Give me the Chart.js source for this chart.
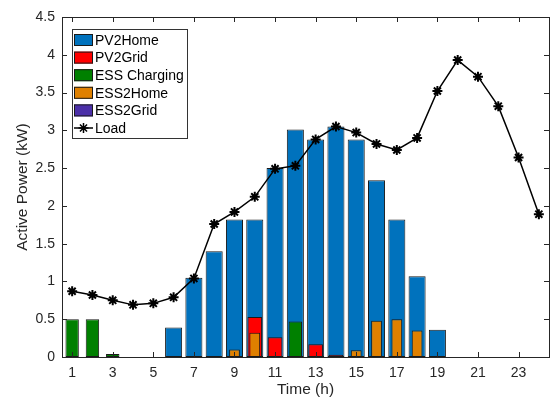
<!DOCTYPE html>
<html>
<head>
<meta charset="utf-8">
<script src="https://cdn.jsdelivr.net/npm/chart.js@4"></script>
<style>
  html, body { margin: 0; padding: 0; background: #fff; }
  #wrap { width: 556px; height: 404px; }
</style>
</head>
<body>
<div id="wrap"><canvas id="chart" width="556" height="404"></canvas></div>
<script>
// ─── Data ─────────────────────────────────────────────────────────────
const HOURS = ['1','2','3','4','5','6','7','8','9','10','11','12',
               '13','14','15','16','17','18','19','20','21','22','23','24'];

const PV2HOME  = [0, 0, 0, 0, 0, 0.39, 1.05, 1.40, 1.82, 1.82, 2.50, 3.01,
                  2.88, 3.05, 2.88, 2.34, 1.82, 1.07, 0.36, 0, 0, 0, 0, 0];
const PV2GRID  = [0, 0, 0, 0, 0, 0, 0, 0, 0, 0.53, 0.26, 0,
                  0.17, 0.03, 0, 0, 0, 0, 0, 0, 0, 0, 0, 0];
const ESS_CHG  = [0.50, 0.50, 0.04, 0, 0, 0, 0, 0, 0, 0, 0, 0.47,
                  0, 0, 0, 0, 0, 0, 0, 0, 0, 0, 0, 0];
const ESS2HOME = [0, 0, 0, 0, 0, 0, 0, 0, 0.10, 0.32, 0, 0,
                  0, 0, 0.09, 0.48, 0.50, 0.35, 0, 0, 0, 0, 0, 0];
const ESS2GRID = [0, 0, 0, 0, 0, 0, 0, 0, 0, 0, 0, 0,
                  0, 0, 0, 0, 0, 0, 0, 0, 0, 0, 0, 0];
const LOAD     = [0.87, 0.82, 0.75, 0.69, 0.71, 0.79, 1.04, 1.76, 1.92, 2.12, 2.49, 2.53,
                  2.88, 3.05, 2.97, 2.82, 2.74, 2.90, 3.52, 3.93, 3.71, 3.32, 2.64, 1.89];

const Y_MIN = 0, Y_MAX = 4.5, Y_STEP = 0.5;

const INK  = '#262626';
const FONT = '"Liberation Sans", Arial, Helvetica, sans-serif';

// ─── Helpers ──────────────────────────────────────────────────────────
// zero-height bars are left out so no stray outline is drawn
function barSet(label, data, color, pct, order) {
  return {
    type: 'bar', label,
    data: data.map(v => (v === 0 ? null : v)),
    backgroundColor: color,
    borderColor: '#1a1a1a',
    borderWidth: 1,
    borderSkipped: false,
    grouped: false,
    barPercentage: pct,
    categoryPercentage: 1,
    order
  };
}

// box, inward ticks and in-axes legend (MATLAB style)
const matlabAxes = {
  id: 'matlabAxes',
  afterDraw(chart) {
    const { ctx, chartArea: a, scales: { x, y } } = chart;
    ctx.save();
    ctx.strokeStyle = INK;
    ctx.lineWidth = 1;

    ctx.beginPath();
    x.ticks.forEach((t, i) => {
      if (i % 2) return;
      const px = Math.round(x.getPixelForTick(i)) + 0.5;
      ctx.moveTo(px, a.bottom); ctx.lineTo(px, a.bottom - 5);
      ctx.moveTo(px, a.top);    ctx.lineTo(px, a.top + 5);
    });
    y.ticks.forEach(t => {
      const py = Math.round(y.getPixelForValue(t.value)) + 0.5;
      ctx.moveTo(a.left, py);  ctx.lineTo(a.left + 5, py);
      ctx.moveTo(a.right, py); ctx.lineTo(a.right - 5, py);
    });
    ctx.stroke();
    ctx.strokeRect(Math.round(a.left) + 0.5, Math.round(a.top) + 0.5,
                   Math.round(a.right - a.left), Math.round(a.bottom - a.top));

    // legend
    const lx = 72, ly = 29, lw = 115, lh = 109, row = 17.6;
    ctx.fillStyle = '#fff';
    ctx.fillRect(lx, ly, lw, lh);
    ctx.strokeStyle = '#333';
    ctx.strokeRect(lx + 0.5, ly + 0.5, lw, lh);
    ctx.font = '14px ' + FONT;
    ctx.textBaseline = 'middle';
    chart.data.datasets.forEach((ds, i) => {
      const cy = ly + 11 + i * row;
      if (ds.type === 'bar') {
        ctx.fillStyle = ds.backgroundColor;
        ctx.fillRect(74, cy - 6, 19, 12);
        ctx.strokeStyle = '#1a1a1a';
        ctx.strokeRect(74.5, cy - 5.5, 18, 11);
      } else {
        ctx.strokeStyle = '#000';
        ctx.lineWidth = 1.5;
        ctx.beginPath();
        ctx.moveTo(74, cy); ctx.lineTo(93, cy);
        ctx.stroke();
        Chart.helpers.drawPoint(ctx, { pointStyle: 'star', radius: 5, borderWidth: 2 }, 83.5, cy);
        ctx.lineWidth = 1;
      }
      ctx.fillStyle = '#000';
      ctx.fillText(ds.label, 95, cy + 1);
    });
    ctx.restore();
  }
};

// ─── Chart ────────────────────────────────────────────────────────────
new Chart(document.getElementById('chart'), {
  data: {
    labels: HOURS,
    datasets: [
      barSet('PV2Home',      PV2HOME,  '#0072bd', 0.84, 6),
      barSet('PV2Grid',      PV2GRID,  '#ff0000', 0.72, 5),
      barSet('ESS Charging', ESS_CHG,  '#008000', 0.66, 4),
      barSet('ESS2Home',     ESS2HOME, '#df8000', 0.53, 3),
      barSet('ESS2Grid',     ESS2GRID, '#4b2fa8', 0.45, 2),
      {
        type: 'line', label: 'Load', data: LOAD,
        borderColor: '#000', backgroundColor: '#000',
        borderWidth: 1.5, tension: 0,
        pointStyle: 'star', pointRadius: 5, pointBorderWidth: 2,
        pointBorderColor: '#000',
        order: 0
      }
    ]
  },
  options: {
    responsive: false,
    animation: false,
    devicePixelRatio: 1,
    layout: { padding: { top: 17, right: 6, left: 0, bottom: 0 } },
    plugins: { legend: { display: false }, tooltip: { enabled: false } },
    scales: {
      x: {
        type: 'category',
        offset: true,
        grid: { display: false, drawTicks: false },
        border: { display: false },
        ticks: {
          autoSkip: false, maxRotation: 0, padding: 8,
          color: INK, font: { family: FONT, size: 14 },
          callback: (v, i) => (i % 2 === 0 ? HOURS[i] : '')
        },
        title: {
          display: true, text: 'Time (h)', color: INK,
          font: { family: FONT, size: 15.5 }, padding: { top: 2, bottom: 5 }
        },
        afterFit: s => { s.height = 47; }
      },
      y: {
        min: Y_MIN, max: Y_MAX,
        grid: { display: false, drawTicks: false },
        border: { display: false },
        ticks: {
          stepSize: Y_STEP, padding: 7,
          color: INK, font: { family: FONT, size: 14 },
          callback: v => String(v)
        },
        title: {
          display: true, text: 'Active Power (kW)', color: INK,
          font: { family: FONT, size: 15.5 }, padding: { top: 13, bottom: 0 }
        },
        afterFit: s => { s.width = 62; }
      }
    }
  },
  plugins: [matlabAxes]
});
</script>
</body>
</html>
